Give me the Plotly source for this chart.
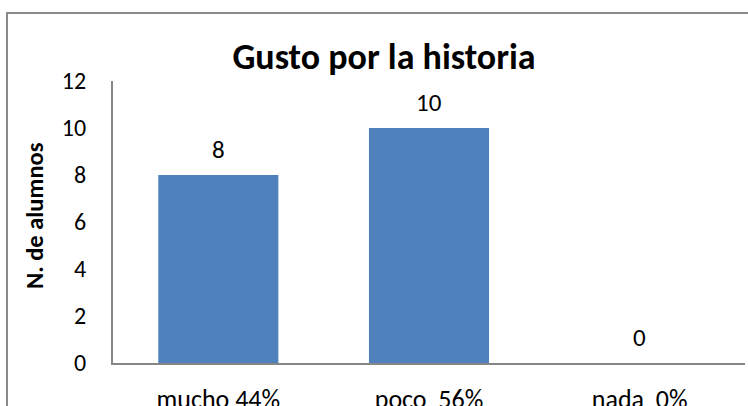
import plotly.graph_objects as go

categories = ["mucho 44%", "poco\u00a0\u00a056%", "nada\u00a0\u00a00%"]
values = [8, 10, 0]
y_ticks = [0, 2, 4, 6, 8, 10, 12]

FONT = "Carlito, Calibri, Lato, sans-serif"
BAR = "#4f81bd"
AXIS = "#868686"

fig = go.Figure()
fig.add_trace(go.Bar(x=categories, y=values, marker=dict(color=BAR, line=dict(width=0)),
                     showlegend=False, hoverinfo="x+y"))

for c, v in zip(categories, values):
    fig.add_annotation(x=c, y=v, text=str(v), showarrow=False, yanchor="middle", yshift=26,
                       font=dict(family=FONT, size=25, color="black"))

W, H = 748, 406
l, r, t, b = 113, 3, 81, 43
pw, ph = W - l - r, H - t - b

def px(x):
    return (x - l) / pw

def py(y):
    return (H - b - y) / ph

BORDER = dict(color="#898989", width=2)
# chart-area border: top and left edges (right/bottom fall outside the view)
fig.add_shape(type="path", xref="paper", yref="paper",
              path=f"M {px(760)},{py(13)} L {px(7)},{py(13)} L {px(7)},{py(420)}",
              line=BORDER, layer="above")

fig.add_annotation(xref="paper", yref="paper", x=px(35), y=py(216), text="<b>N. de alumnos</b>",
                   textangle=-90, showarrow=False, xanchor="center", yanchor="middle",
                   font=dict(family=FONT, size=24.5, color="black"))

fig.update_layout(
    width=W, height=H,
    margin=dict(l=l, r=r, t=t, b=b, autoexpand=False),
    paper_bgcolor="white", plot_bgcolor="white",
    bargap=0.43,
    font=dict(family=FONT, color="black"),
    title=dict(text="<b>Gusto por la historia</b>", x=384 / W, xanchor="center",
               y=1 - 56 / H, yanchor="middle", font=dict(family=FONT, size=36, color="black")),
    xaxis=dict(showline=True, linecolor=AXIS, linewidth=2, showgrid=False, ticks="",
               tickfont=dict(family=FONT, size=26, color="black"), ticklabelstandoff=12,
               zeroline=False, automargin=False),
    yaxis=dict(range=[0, 12], tickvals=y_ticks, showline=True, linecolor=AXIS, linewidth=2,
               showgrid=False, zeroline=False, ticks="", automargin=False,
               tickfont=dict(family=FONT, size=24, color="black"), ticklabelstandoff=20),
)

post = (
    "document.body.style.margin='0';document.body.style.overflow='hidden';"
    "var bd=document.createElement('div');"
    "bd.style.cssText='position:absolute;left:6px;top:12px;width:800px;height:500px;"
    "border-top:2px solid #898989;border-left:2px solid #898989;pointer-events:none;z-index:1000;';"
    "document.body.appendChild(bd);"
)

fig.write_html("out.html", config={"displayModeBar": False}, post_script=post)
